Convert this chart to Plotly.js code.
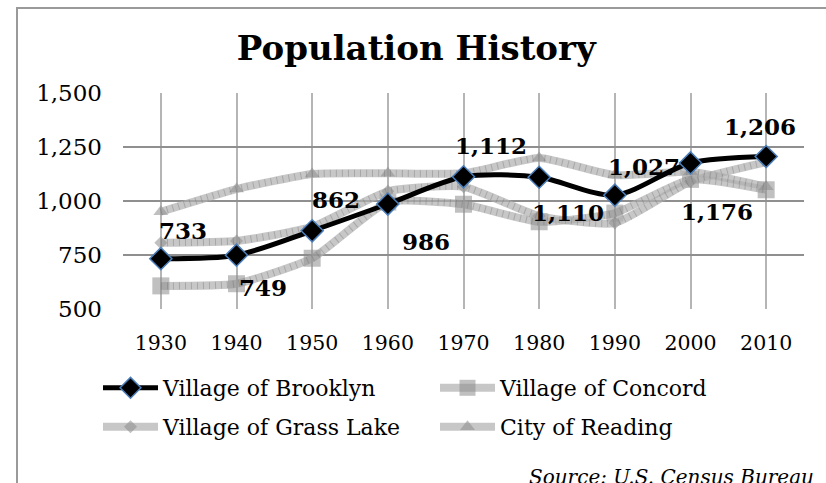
<!DOCTYPE html>
<html>
<head>
<meta charset="utf-8">
<script src="https://cdn.plot.ly/plotly-3.0.1.min.js"></script>
<style>
  html, body { margin: 0; padding: 0; background: #fff; }
  #wrap { position: relative; width: 826px; height: 483px; overflow: hidden; }
  #chart { position: absolute; left: 0; top: 0; width: 826px; height: 483px; }
  #frame { position: absolute; left: 16px; top: 7px; width: 830px; height: 500px;
           border: 2px solid #9a9a9a; pointer-events: none; box-sizing: border-box; }
</style>
</head>
<body>
<div id="wrap">
  <div id="chart"></div>
  <div id="frame"></div>
</div>
<script>
// ---- data ----
const years = ["1930", "1940", "1950", "1960", "1970", "1980", "1990", "2000", "2010"];
const brooklyn  = [733, 749, 862, 986, 1112, 1110, 1027, 1176, 1206];
const concord   = [607, 617, 735, 995, 985, 904, 944, 1100, 1052];
const grassLake = [807, 815, 880, 1045, 1066, 930, 898, 1090, 1180];
const reading   = [950, 1055, 1125, 1128, 1128, 1199, 1120, 1135, 1066];
const seriesNames = ["Village of Brooklyn", "Village of Concord", "Village of Grass Lake", "City of Reading"];
const yTicks = [500, 750, 1000, 1250, 1500];
const titleText = "Population History";
const sourceText = "Source: U.S. Census Bureau";

// ---- label placement (style only) ----
const labelShift = [[22, 28], [26, -32], [24, 31], [38, -37], [27, 31], [29, -35], [29, 29], [26, -49], [-6, 30]];

const SERIF = "DejaVu Serif, Georgia, serif";
const grayLine = "rgba(175,175,175,0.7)";
const grayMark = "rgba(140,140,140,0.55)";

function grayTrace(y, name, symbol, size, rank, legendId) {
  return {
    x: years, y: y, name: name, type: "scatter", mode: "lines+markers",
    line: { color: grayLine, width: 8, shape: "spline", smoothing: 0.5 },
    marker: { symbol: symbol, size: size, color: grayMark, line: { width: 0 } },
    legendrank: rank, legend: legendId, hoverinfo: "skip"
  };
}
function textureTrace(y) {
  return {
    x: years, y: y, type: "scatter", mode: "lines", showlegend: false, hoverinfo: "skip",
    line: { color: "rgba(110,110,110,0.35)", width: 7, shape: "spline", smoothing: 0.5, dash: "1px,5px" }
  };
}

const traces = [
  grayTrace(concord, seriesNames[1], "square", 17, 2, "legend"),
  textureTrace(concord),
  grayTrace(grassLake, seriesNames[2], "diamond", 10, 3, "legend2"),
  textureTrace(grassLake),
  grayTrace(reading, seriesNames[3], "triangle-up", 13, 4, "legend2"),
  textureTrace(reading),
  {
    x: years, y: brooklyn, name: seriesNames[0], type: "scatter", mode: "lines+markers",
    line: { color: "#000000", width: 5, shape: "spline", smoothing: 0.8 },
    marker: { symbol: "diamond", size: 17, color: "#000000", line: { color: "#4a7ebb", width: 1.5 } },
    legendrank: 1, legend: "legend"
  }
];

const annotations = brooklyn.map((v, i) => ({
  x: i, y: v, xref: "x", yref: "y",
  text: v.toLocaleString("en-US"), showarrow: false,
  xshift: labelShift[i][0], yshift: labelShift[i][1],
  font: { family: SERIF, size: 23, color: "#000", weight: "bold" }
}));
annotations.push({
  xref: "paper", yref: "paper", x: 1.018, y: -0.778, xanchor: "right", yanchor: "middle",
  text: sourceText, showarrow: false,
  font: { family: SERIF, size: 20, color: "#000", style: "italic" }
});

const legendCommon = {
  orientation: "h", xref: "paper", yref: "paper", xanchor: "left", yanchor: "middle",
  entrywidth: 267, entrywidthmode: "pixels", itemwidth: 55,
  font: { family: SERIF, size: 22, color: "#000" }, bgcolor: "rgba(0,0,0,0)",
  traceorder: "normal"
};

const layout = {
  width: 826, height: 483,
  margin: { l: 123, r: 22, t: 93, b: 174 },
  paper_bgcolor: "#ffffff", plot_bgcolor: "#ffffff",
  title: {
    text: "<b>" + titleText + "</b>", xref: "container", yref: "container",
    x: 0.504, y: 1 - 48 / 483, xanchor: "center", yanchor: "middle",
    font: { family: SERIF, size: 34, color: "#000" }
  },
  xaxis: {
    type: "category", categoryorder: "array", categoryarray: years,
    range: [-0.5, 8.5], showgrid: true, gridcolor: "#b5b5b5", gridwidth: 2,
    zeroline: false, showline: false, ticks: "", ticklabelstandoff: 19,
    tickfont: { family: SERIF, size: 20.5, color: "#000" }
  },
  yaxis: {
    range: [500, 1500], tickvals: yTicks, ticktext: yTicks.map(v => v.toLocaleString("en-US")),
    showgrid: true, gridcolor: "#8f8f8f", gridwidth: 2, zeroline: false, showline: false,
    ticks: "", ticklabelstandoff: 20,
    tickfont: { family: SERIF, size: 23, color: "#000" }
  },
  showlegend: true,
  legend: Object.assign({}, legendCommon, { x: -0.0367, y: -0.3657 }),
  legend2: Object.assign({}, legendCommon, { x: -0.0367, y: -0.5463 }),
  annotations: annotations
};

Plotly.newPlot("chart", traces, layout, { staticPlot: true, displayModeBar: false });
</script>
</body>
</html>
